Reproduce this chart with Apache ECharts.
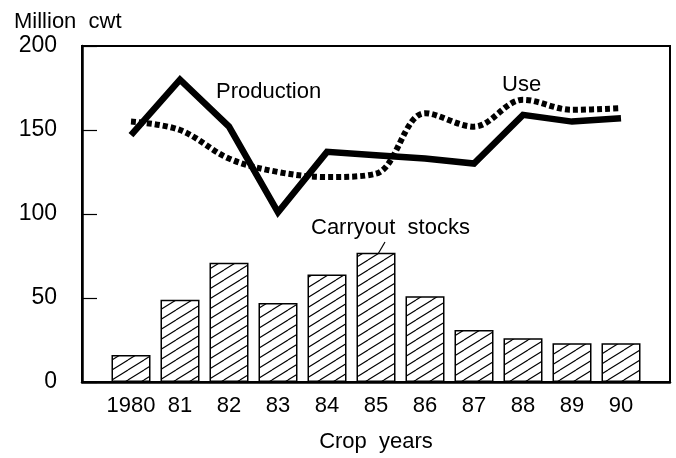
<!DOCTYPE html>
<html>
<head>
<meta charset="utf-8">
<script src="https://cdn.jsdelivr.net/npm/echarts@6/dist/echarts.min.js"></script>
<style>html,body{margin:0;padding:0;background:#fff}#c{width:676px;height:458px}</style>
</head>
<body>
<div id="c"></div>
<script>
var years = [1980, 1981, 1982, 1983, 1984, 1985, 1986, 1987, 1988, 1989, 1990];
var yearLabels = ['1980', '81', '82', '83', '84', '85', '86', '87', '88', '89', '90'];
var production = [147, 180, 152, 101, 137, 135, 133, 130, 159, 155, 157];
var use = [155, 150, 133, 125, 122, 124, 160, 152, 168, 162, 163];
var stocks = [16, 49, 71, 47, 64, 77, 51, 31, 26, 23, 23];
var yTicks = [0, 50, 100, 150, 200];

function pairs(v) { return years.map(function (y, i) { return [y, v[i]]; }); }

var tile = document.createElement('canvas');
tile.width = 16; tile.height = 10;
var g = tile.getContext('2d');
g.fillStyle = '#fff'; g.fillRect(0, 0, 16, 10);
g.strokeStyle = '#000'; g.lineWidth = 1.1;
[-10, 0, 10].forEach(function (o) {
  g.beginPath(); g.moveTo(0, 10 + o); g.lineTo(16, 0 + o); g.stroke();
});

var FONT = '"Liberation Sans", Arial, sans-serif';
var chart = echarts.init(document.getElementById('c'), null, {renderer: 'canvas'});
chart.setOption({
  animation: false,
  backgroundColor: '#fff',
  grid: {left: 82, top: 46, right: 6, bottom: 74, show: true, borderColor: '#000', borderWidth: 2, backgroundColor: 'transparent'},
  xAxis: {
    type: 'value', min: 1979, max: 1991, interval: 1,
    splitLine: {show: false},
    axisLine: {lineStyle: {color: '#000', width: 2.5}},
    axisTick: {show: false},
    axisLabel: {
      color: '#000', fontSize: 22, fontFamily: FONT, margin: 13,
      formatter: function (v) { var i = years.indexOf(v); return i >= 0 ? yearLabels[i] : ''; }
    },
    name: 'Crop  years', nameLocation: 'middle', nameGap: 49,
    nameTextStyle: {color: '#000', fontSize: 22, fontFamily: FONT}
  },
  yAxis: {
    type: 'value', min: yTicks[0], max: yTicks[yTicks.length - 1], interval: 50,
    splitLine: {show: false},
    axisLine: {show: true, lineStyle: {color: '#000', width: 2.5}},
    axisTick: {show: true, inside: true, length: 15, lineStyle: {color: '#000', width: 1.2}},
    axisLabel: {color: '#000', fontSize: 23, fontFamily: FONT, margin: 25}
  },
  graphic: [
    {type: 'text', left: 14, top: 11, style: {text: 'Million  cwt', fill: '#000', font: '22px ' + FONT}},
    {type: 'text', left: 216, top: 81, style: {text: 'Production', fill: '#000', font: '22px ' + FONT}},
    {type: 'text', left: 502, top: 74, style: {text: 'Use', fill: '#000', font: '22px ' + FONT}},
    {type: 'text', left: 311, top: 217, style: {text: 'Carryout  stocks', fill: '#000', font: '22px ' + FONT}},
    {type: 'line', shape: {x1: 385, y1: 242, x2: 378, y2: 254}, style: {stroke: '#000', lineWidth: 1.2}}
  ],
  series: [
    {
      type: 'bar', data: pairs(stocks), barWidth: 39, z: 2,
      itemStyle: {color: {image: tile, repeat: 'repeat'}, borderColor: '#000', borderWidth: 1.5}
    },
    {
      type: 'line', data: pairs(use), showSymbol: false, smooth: 0.35, z: 3,
      lineStyle: {color: '#000', width: 6, type: [5, 3], cap: 'butt'}
    },
    {
      type: 'line', data: pairs(production), showSymbol: false, z: 4,
      lineStyle: {color: '#000', width: 6.5, join: 'miter'}
    }
  ]
});
</script>
</body>
</html>
